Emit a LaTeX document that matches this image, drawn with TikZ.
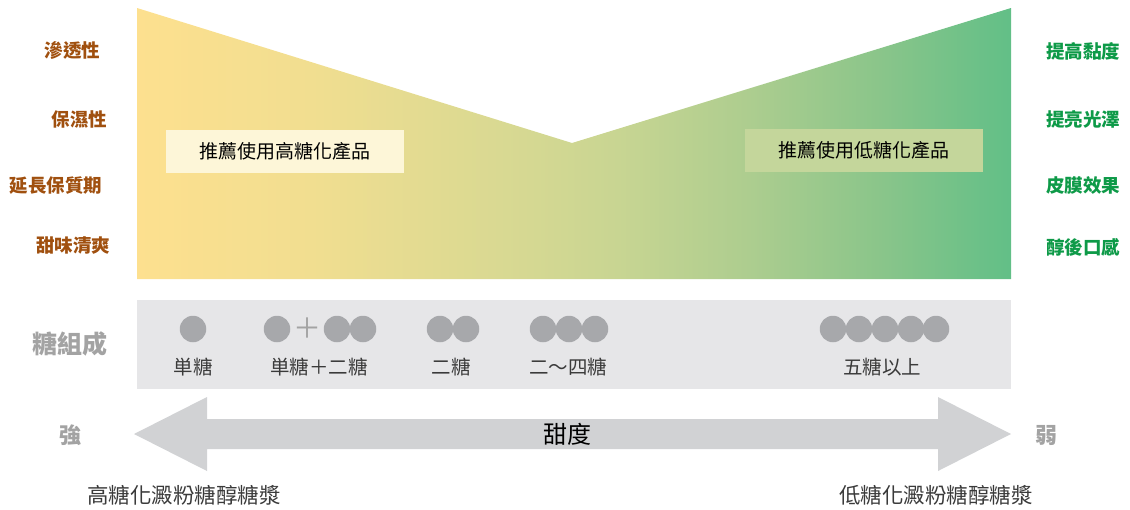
\documentclass[tikz,border=0pt]{standalone}
\usepackage{fontspec}
\setmainfont{Noto Sans CJK TC}
\usetikzlibrary{shapes.geometric}
\definecolor{cyel}{HTML}{FDE08F}
\definecolor{cg1}{HTML}{F1DE90}
\definecolor{cg2}{HTML}{D5D892}
\definecolor{cg3}{HTML}{C8D592}
\definecolor{cg4}{HTML}{ADCD8F}
\definecolor{cg5}{HTML}{8AC58A}
\definecolor{cgrn}{HTML}{62BF87}
\pgfdeclarehorizontalshading{vshade}{100bp}{color(0bp)=(cyel); color(25bp)=(cyel); color(35bp)=(cg1); color(47.5bp)=(cg2); color(52.5bp)=(cg3); color(60bp)=(cg4); color(67.5bp)=(cg5); color(75bp)=(cgrn); color(100bp)=(cgrn)}
\definecolor{brownlab}{HTML}{A0500F}
\definecolor{greenlab}{HTML}{0E9A48}
\definecolor{bandgray}{HTML}{E6E6E8}
\definecolor{dotgray}{HTML}{A7A8AB}
\definecolor{arrgray}{HTML}{D1D2D4}
\definecolor{txtgray}{HTML}{3A3A3A}
\definecolor{lblgray}{HTML}{A3A3A3}
\definecolor{boxl}{HTML}{FDF6D8}
\definecolor{boxr}{HTML}{C4D69B}
\tikzset{
  leftlab/.style={text=brownlab, font=\fontsize{18.5}{18.5}\selectfont\bfseries, inner sep=0pt},
  rightlab/.style={text=greenlab, font=\fontsize{18.5}{18.5}\selectfont\bfseries, inner sep=0pt},
  dot/.style={circle, fill=dotgray, minimum size=26.5pt, inner sep=0pt},
  sugarlab/.style={text=txtgray, font=\fontsize{19.5}{19.5}\selectfont, inner sep=0pt},
  recbox/.style={minimum width=238pt, minimum height=43pt, inner sep=0pt, font=\fontsize{19}{19}\selectfont},
  sidelab/.style={text=lblgray, font=\fontsize{22}{22}\selectfont\bfseries, inner sep=0pt},
  bottomlab/.style={text=txtgray, font=\fontsize{21.5}{21.5}\selectfont, inner sep=0pt},
}
\begin{document}
\begin{tikzpicture}[x=1pt,y=-1pt]
\useasboundingbox (0,0) rectangle (1130,509);
% top V-shaped gradient
\shade[shading=vshade]
  (137,8) -- (572,143) -- (1011,8) -- (1011,279) -- (137,279) -- cycle;
\node[recbox, fill=boxl] (hb) at (285,151.5) {推薦使用高糖化產品};
\node[recbox, fill=boxr] (lb) at (864,150.5) {推薦使用低糖化產品};
% left labels
\node[leftlab] (l1) at (72.5,51) {滲透性};
\node[leftlab] (l2) at (79.5,119) {保濕性};
\node[leftlab] (l3) at (56,186) {延長保質期};
\node[leftlab] (l4) at (73,246) {甜味清爽};
% right labels
\node[rightlab] (r1) at (1083,51) {提高黏度};
\node[rightlab] (r2) at (1083,119) {提亮光澤};
\node[rightlab] (r3) at (1083,185) {皮膜效果};
\node[rightlab] (r4) at (1083,247) {醇後口感};
% sugar band
\fill[bandgray] (137,300) rectangle (1011,389);
\node[text=lblgray, font=\fontsize{25}{25}\selectfont\bfseries, inner sep=0pt] (tz) at (70,344) {糖組成};
\node[dot] (d1) at (193,329) {};
\node[dot] (d2) at (277,329) {};
\node[text=lblgray, font=\fontsize{28}{28}\selectfont, inner sep=0pt] (plus) at (307.5,328) {＋};
\node[dot] (d3) at (337,329) {};
\node[dot] (d4) at (363,329) {};
\node[dot] (d5) at (440,329) {};
\node[dot] (d6) at (466,329) {};
\node[dot] (d7) at (543,329) {};
\node[dot] (d8) at (569,329) {};
\node[dot] (d9) at (595,329) {};
\node[dot] (e1) at (833,329) {};
\node[dot] (e2) at (859,329) {};
\node[dot] (e3) at (885,329) {};
\node[dot] (e4) at (911,329) {};
\node[dot] (e5) at (936,329) {};
\node[sugarlab] (s1) at (193,367) {単糖};
\node[sugarlab] (s2) at (319,367) {単糖＋二糖};
\node[sugarlab] (s3) at (451,367) {二糖};
\node[sugarlab] (s4) at (568,367) {二〜四糖};
\node[sugarlab] (s5) at (882,367) {五糖以上};
% double arrow
\fill[arrgray] (134,434) -- (207,397) -- (207,419) -- (938,419) -- (938,397) -- (1011,434)
  -- (938,471) -- (938,449) -- (207,449) -- (207,471) -- cycle;
\node[font=\fontsize{24}{24}\selectfont, inner sep=0pt] (sw) at (567,434) {甜度};
\node[sidelab] (strong) at (70,435) {強};
\node[sidelab] (weak) at (1046,435) {弱};
\node[bottomlab] (bl) at (184,495) {高糖化澱粉糖醇糖漿};
\node[bottomlab] (br) at (936,495) {低糖化澱粉糖醇糖漿};
\end{tikzpicture}
\end{document}
